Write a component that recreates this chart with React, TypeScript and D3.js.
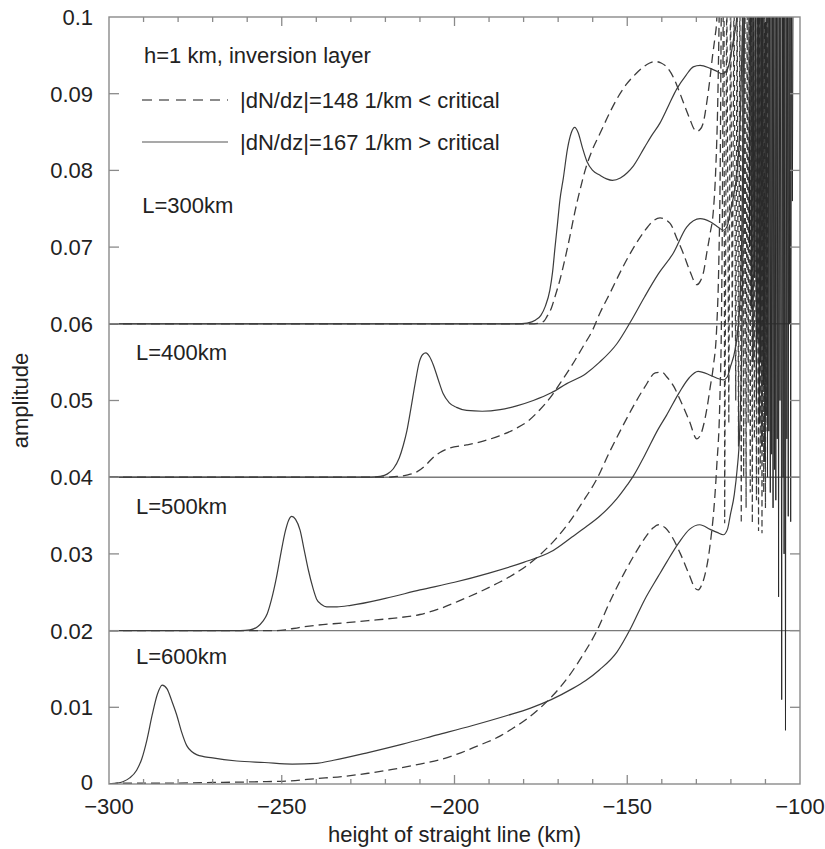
import React, { useEffect } from "react";
import * as d3 from "d3";

// ---------- data (x in km, amplitude) ----------
const l600Solid: [number, number][] = [
  [-300, 0], [-298, 0.0001], [-296, 0.0003], [-294, 0.0008], [-292, 0.0018], [-290.5, 0.0033],
  [-289, 0.0058], [-287.5, 0.009], [-286, 0.0117], [-284.6, 0.0129], [-283.2, 0.0124], [-281.8, 0.0108],
  [-280.4, 0.009], [-279, 0.0068], [-277.5, 0.005], [-276, 0.0042], [-274.5, 0.0038], [-270, 0.0034],
  [-263, 0.003], [-255, 0.0028], [-247, 0.0026], [-240, 0.0027], [-235, 0.0031], [-225, 0.0041],
  [-215, 0.0052], [-205, 0.0064], [-195, 0.0076], [-185, 0.0089], [-178, 0.0099], [-172, 0.011],
  [-166, 0.0124], [-162, 0.0135], [-158, 0.0149], [-153, 0.0172], [-149, 0.0203], [-145, 0.024],
  [-141, 0.0271], [-138.5, 0.029], [-135, 0.0315], [-132, 0.0332], [-129, 0.0338], [-126, 0.0332],
  [-124, 0.0328], [-122.2, 0.0325], [-121, 0.0332], [-120.2, 0.035], [-119, 0.0378], [-118.2, 0.041],
  [-117.5, 0.0455], [-116.9, 0.056], [-116.4, 0.075], [-116.0, 0.105],
];

const l500Solid: [number, number][] = [
  [-300, 0.02], [-262, 0.02], [-259.2, 0.0201], [-257, 0.0205], [-255.5, 0.0212], [-254.2, 0.0222],
  [-253, 0.024], [-251.5, 0.027], [-250.2, 0.0302], [-249, 0.0329], [-248, 0.0344], [-247.1, 0.0349],
  [-246, 0.0345], [-244.7, 0.0331], [-243.5, 0.0305], [-242.3, 0.0279], [-241, 0.0256], [-239.9, 0.0241],
  [-238.5, 0.0234], [-237, 0.0231], [-234, 0.0231], [-230, 0.0233], [-220, 0.0242], [-210, 0.0253],
  [-200, 0.0263], [-190, 0.0275], [-180, 0.0289], [-172, 0.0303], [-166, 0.0322], [-162, 0.0335],
  [-158, 0.0349], [-153, 0.0372], [-150, 0.039], [-148.3, 0.0401], [-145, 0.0428], [-141, 0.0463],
  [-138.6, 0.0481], [-135, 0.051], [-132, 0.053], [-129.5, 0.0538], [-126, 0.0533], [-124, 0.0529],
  [-122.2, 0.0527], [-121, 0.0531], [-120.2, 0.0543], [-118.8, 0.0566], [-117.9, 0.0596],
  [-117.2, 0.065], [-116.6, 0.08], [-116.2, 0.105],
];

const l400Solid: [number, number][] = [
  [-300, 0.04], [-224, 0.04], [-221.6, 0.0401], [-219.5, 0.0404], [-217.7, 0.0411], [-216, 0.0425],
  [-214.8, 0.0442], [-213.8, 0.046], [-212.6, 0.049], [-211.4, 0.0522], [-210.2, 0.055], [-209.2, 0.056],
  [-208.3, 0.0562], [-207.2, 0.0557], [-206.1, 0.0546], [-204.7, 0.0527], [-203.3, 0.0509], [-201.5, 0.0497],
  [-199.4, 0.0491], [-196.5, 0.0487], [-192, 0.0486], [-186.8, 0.0488], [-182, 0.0493], [-177.2, 0.05],
  [-172, 0.051], [-167.5, 0.0522], [-162, 0.0535], [-158, 0.055], [-153, 0.0574], [-149, 0.0603],
  [-145, 0.0635], [-141, 0.0665], [-136.7, 0.0692], [-132.8, 0.0726], [-128.9, 0.0737], [-126, 0.0733],
  [-124, 0.0727], [-122.2, 0.0722], [-121, 0.0728], [-120.3, 0.0744], [-118.8, 0.0778], [-117.9, 0.0815],
  [-117.2, 0.088], [-116.6, 0.1], [-116.2, 0.11],
];

const l300Solid: [number, number][] = [
  [-300, 0.06], [-182, 0.06], [-179, 0.0601], [-176.5, 0.0605], [-175, 0.0611], [-173.7, 0.0623],
  [-172.4, 0.0644], [-171.6, 0.0668], [-170.9, 0.07], [-170.2, 0.073], [-169.5, 0.0761], [-168.5, 0.079],
  [-167.3, 0.0828], [-166.2, 0.0849], [-165.2, 0.0856], [-164.2, 0.0849], [-163, 0.083], [-161.7, 0.0812],
  [-160, 0.08], [-158, 0.0794], [-156, 0.0789], [-154.3, 0.0787], [-152, 0.079], [-150, 0.0797],
  [-148.2, 0.0806], [-145, 0.083], [-143, 0.0845], [-140.5, 0.0862], [-138, 0.0885], [-135.7, 0.0906],
  [-133, 0.0924], [-130.9, 0.0935], [-128.9, 0.0937], [-126, 0.0933], [-124, 0.0929], [-122.5, 0.0926],
  [-121, 0.0932], [-120.2, 0.0945], [-119.3, 0.097], [-118.3, 0.1], [-117.8, 0.105],
];

const l600Dashed: [number, number][] = [
  [-300, 0], [-297, 0.0001], [-285, 0.0001], [-270, 0.0002], [-256, 0.0003], [-248, 0.0004],
  [-240, 0.0007], [-232, 0.001], [-225, 0.0014], [-218, 0.0019], [-210, 0.0026], [-204, 0.0032],
  [-198, 0.0041], [-192, 0.0052], [-187, 0.0062], [-183, 0.0073], [-179, 0.0085], [-175, 0.01],
  [-171, 0.0118], [-167, 0.014], [-163, 0.0167], [-159, 0.0198], [-155, 0.0238], [-151, 0.0274],
  [-148.3, 0.0296], [-145, 0.032], [-142.5, 0.0334], [-141, 0.0338], [-139, 0.0334], [-137, 0.0322],
  [-134.7, 0.0301], [-132, 0.0272], [-130.5, 0.0256], [-129.5, 0.0253], [-128.5, 0.0259], [-127.5, 0.0273],
  [-126.5, 0.0296], [-125.8, 0.032], [-125.1, 0.0349], [-124.1, 0.0414], [-123.2, 0.05], [-122.7, 0.062],
  [-122.4, 0.08], [-122.2, 0.105],
];

const l500Dashed: [number, number][] = [
  [-300, 0.02], [-252, 0.02], [-249, 0.0201], [-245, 0.0204], [-240, 0.0207], [-232, 0.021],
  [-225, 0.0213], [-218, 0.0216], [-210, 0.0221], [-204, 0.0229], [-198, 0.024], [-192, 0.0252],
  [-187, 0.0263], [-183, 0.0273], [-179, 0.0285], [-175, 0.03], [-171, 0.0318], [-167, 0.034],
  [-163, 0.0367], [-159, 0.0396], [-155, 0.0434], [-151.5, 0.0465], [-148.3, 0.0492], [-145, 0.0517],
  [-141.9, 0.0536], [-140, 0.0537], [-138.6, 0.0531], [-136.5, 0.0518], [-134.7, 0.0501],
  [-132, 0.0473], [-129.9, 0.045], [-128.8, 0.0455], [-127.8, 0.047], [-127, 0.0488], [-126, 0.0517],
  [-125.1, 0.0544], [-124.1, 0.0596], [-123.5, 0.068], [-123.1, 0.08], [-122.8, 0.1], [-122.6, 0.11],
];

const l400Dashed: [number, number][] = [
  [-300, 0.04], [-219, 0.04], [-216.7, 0.0401], [-213.5, 0.0403], [-210.9, 0.0407], [-208.5, 0.0415],
  [-206.1, 0.0426], [-203.5, 0.0434], [-201.3, 0.0438], [-196.5, 0.0442], [-191.7, 0.0447], [-187, 0.0454],
  [-182, 0.0464], [-178.5, 0.0474], [-175.3, 0.0488], [-172.4, 0.0503], [-169.5, 0.0522], [-166, 0.0546],
  [-162.7, 0.0571], [-160, 0.0592], [-157.9, 0.0614], [-155, 0.064], [-151.5, 0.0672], [-148.2, 0.0699],
  [-145, 0.0721], [-142.5, 0.0734], [-140.5, 0.0738], [-137.6, 0.0731], [-135.7, 0.0712], [-133.8, 0.0692],
  [-131.8, 0.0668], [-129.9, 0.0651], [-128.8, 0.0656], [-127.8, 0.067], [-127, 0.0692], [-126, 0.0718],
  [-125.1, 0.0746], [-124.4, 0.08], [-123.8, 0.089], [-123.4, 0.1], [-123.1, 0.11],
];

const l300Dashed: [number, number][] = [
  [-300, 0.06], [-177, 0.06], [-175.3, 0.0601], [-174, 0.0604], [-173.3, 0.0609], [-172, 0.062],
  [-170.8, 0.0637], [-169.5, 0.0657], [-168, 0.0685], [-166.6, 0.0714], [-165.2, 0.0745], [-163.7, 0.0774],
  [-162, 0.0803], [-160, 0.0828], [-157.9, 0.0848], [-155, 0.0876], [-152.5, 0.0897], [-150.1, 0.0913],
  [-147.5, 0.0926], [-145.3, 0.0935], [-143.5, 0.094], [-141.9, 0.0942], [-140.2, 0.094], [-138.6, 0.0935],
  [-136.5, 0.092], [-134.7, 0.09], [-133.2, 0.0882], [-131.8, 0.0866], [-130.8, 0.0855], [-129.9, 0.0851],
  [-129, 0.0853], [-128, 0.0862], [-127, 0.0888], [-126, 0.0922], [-125.3, 0.095], [-124.6, 0.0974],
  [-124.1, 0.0996], [-123.8, 0.104],
];

// oscillating region near the critical level: position of each swing and its lowest amplitude
const dashSpikeX = [-121.8, -120.6, -119.6, -118.6, -117.8, -117.0, -116.3, -115.6, -115.0, -114.4, -113.8, -113.2, -112.6, -112.0, -111.5, -111.0, -110.5, -110.0, -109.5];
const dashSpikeLow = [0.034, 0.047, 0.058, 0.05, 0.044, 0.034, 0.04, 0.036, 0.047, 0.038, 0.034, 0.045, 0.037, 0.033, 0.041, 0.0327, 0.038, 0.036, 0.046];

const solidSpikeX = [-114.6, -114.1, -113.6, -113.1, -112.6, -112.2, -111.8, -111.4, -111.0, -110.6, -110.2, -109.8, -109.4, -109.0, -108.6, -108.2, -107.8, -107.4, -107.0, -106.6, -106.2, -105.8, -105.3, -104.9, -104.6, -104.2, -103.8, -103.4, -103.0, -102.7, -102.2];
const solidSpikeLow = [0.07, 0.062, 0.055, 0.066, 0.05, 0.058, 0.047, 0.055, 0.044, 0.052, 0.042, 0.048, 0.04, 0.046, 0.038, 0.043, 0.036, 0.041, 0.037, 0.045, 0.0244, 0.05, 0.011, 0.04, 0.03, 0.007, 0.045, 0.0349, 0.06, 0.0342, 0.076];

const yTickValues = [0, 0.01, 0.02, 0.03, 0.04, 0.05, 0.06, 0.07, 0.08, 0.09, 0.1];
const yTickLabels = ["0", "0.01", "0.02", "0.03", "0.04", "0.05", "0.06", "0.07", "0.08", "0.09", "0.1"];
const xMajorValues = [-300, -250, -200, -150, -100];
const xMajorLabels = ["\u2212300", "\u2212250", "\u2212200", "\u2212150", "\u2212100"];
const baseLevels = [0.02, 0.04, 0.06];

const curveLabels = ["L=300km", "L=400km", "L=500km", "L=600km"];
const curveLabelX = [-290.4, -292.2, -292.2, -292.2];
const curveLabelY = [0.0744, 0.0553, 0.0352, 0.0157];

const legendTitle = "h=1 km, inversion layer";
const legendDashed = "|dN/dz|=148 1/km < critical";
const legendSolid = "|dN/dz|=167 1/km > critical";

// ---------- layout ----------
const W = 825;
const H = 849;
const M = { left: 109, right: 800, top: 17, bottom: 784 };
const FONT = "'Liberation Sans', Arial, Helvetica, sans-serif";
const TEXT = "#222";
const LINE = "#3c3c3c";
const FRAME = "#8a8a8a";

export default function App() {
  useEffect(() => {
    document.body.style.margin = "0";
  }, []);

  const x = d3.scaleLinear().domain([-300, -100]).range([M.left, M.right]);
  const y = d3.scaleLinear().domain([0, 0.1]).range([M.bottom, M.top]);

  const smooth = d3
    .line<[number, number]>()
    .x((d) => x(d[0]))
    .y((d) => y(d[1]))
    .curve(d3.curveMonotoneX);
  const straight = d3
    .line<[number, number]>()
    .x((d) => x(d[0]))
    .y((d) => y(d[1]));

  const spikePoints = (xs: number[], lows: number[]): [number, number][] => {
    const top = 0.106;
    const pts: [number, number][] = [[xs[0] - 0.2, top]];
    xs.forEach((xv, i) => {
      pts.push([xv, lows[i]]);
      const next = i < xs.length - 1 ? (xv + xs[i + 1]) / 2 : xv + 0.2;
      pts.push([next, top]);
    });
    return pts;
  };

  const solidCurves = [l300Solid, l400Solid, l500Solid, l600Solid];
  const dashedCurves = [l300Dashed, l400Dashed, l500Dashed, l600Dashed];

  const xMinor = d3.range(-290, -100, 10).filter((v) => v % 50 !== 0);

  return (
    <svg
      width={W}
      height={H}
      viewBox={`0 0 ${W} ${H}`}
      style={{ position: "absolute", left: 0, top: 0, display: "block", background: "#fff" }}
      fontFamily={FONT}
    >
      <defs>
        <clipPath id="plotClip">
          <rect x={M.left} y={M.top} width={M.right - M.left} height={M.bottom - M.top} />
        </clipPath>
      </defs>

      {/* base lines */}
      {baseLevels.map((v) => (
        <line key={v} x1={M.left} x2={M.right} y1={y(v)} y2={y(v)} stroke="#7a7a7a" strokeWidth={1.4} />
      ))}

      <g clipPath="url(#plotClip)" fill="none">
        {dashedCurves.map((c, i) => (
          <path key={"d" + i} d={smooth(c) || ""} stroke={LINE} strokeWidth={1.3} strokeDasharray="9,5" />
        ))}
        {solidCurves.map((c, i) => (
          <path key={"s" + i} d={smooth(c) || ""} stroke={LINE} strokeWidth={1.2} />
        ))}
        <path d={straight(spikePoints(dashSpikeX, dashSpikeLow)) || ""} stroke={LINE} strokeWidth={1.2} strokeDasharray="6,4" />
        <path d={straight(spikePoints(solidSpikeX, solidSpikeLow)) || ""} stroke="#2a2a2a" strokeWidth={1} />
      </g>

      {/* frame */}
      <rect x={M.left} y={M.top} width={M.right - M.left} height={M.bottom - M.top} fill="none" stroke={FRAME} strokeWidth={1.4} />

      {/* y ticks */}
      {yTickValues.map((v, i) => (
        <g key={"yt" + i}>
          {i > 0 && i < yTickValues.length - 1 && (
            <>
              <line x1={M.left} x2={M.left + 10} y1={y(v)} y2={y(v)} stroke={FRAME} strokeWidth={1.3} />
              <line x1={M.right} x2={M.right - 10} y1={y(v)} y2={y(v)} stroke={FRAME} strokeWidth={1.3} />
            </>
          )}
          <text x={93} y={y(v) - (i === 0 ? 2 : 0)} dy="0.36em" textAnchor="end" fontSize={22} fill={TEXT}>
            {yTickLabels[i]}
          </text>
        </g>
      ))}

      {/* x ticks */}
      {xMinor.map((v) => (
        <g key={"xm" + v}>
          <line x1={x(v)} x2={x(v)} y1={M.bottom} y2={M.bottom - 5} stroke={FRAME} strokeWidth={1.3} />
          <line x1={x(v)} x2={x(v)} y1={M.top} y2={M.top + 5} stroke={FRAME} strokeWidth={1.3} />
        </g>
      ))}
      {xMajorValues.map((v, i) => (
        <g key={"xM" + v}>
          {i > 0 && i < xMajorValues.length - 1 && (
            <>
              <line x1={x(v)} x2={x(v)} y1={M.bottom} y2={M.bottom - 9} stroke={FRAME} strokeWidth={1.3} />
              <line x1={x(v)} x2={x(v)} y1={M.top} y2={M.top + 9} stroke={FRAME} strokeWidth={1.3} />
            </>
          )}
          <text x={x(v)} y={814} textAnchor="middle" fontSize={22} fill={TEXT}>
            {xMajorLabels[i]}
          </text>
        </g>
      ))}

      {/* axis titles */}
      <text x={(M.left + M.right) / 2} y={842} textAnchor="middle" fontSize={22} fill={TEXT}>
        height of straight line (km)
      </text>
      <text transform={`translate(28,${(M.top + M.bottom) / 2}) rotate(-90)`} textAnchor="middle" fontSize={22} fill={TEXT}>
        amplitude
      </text>

      {/* legend */}
      <text x={144} y={63} fontSize={22} fill={TEXT}>{legendTitle}</text>
      <line x1={142} x2={228} y1={100} y2={100} stroke="#666" strokeWidth={1.3} strokeDasharray="10,7" />
      <text x={240} y={108} fontSize={22} fill={TEXT}>{legendDashed}</text>
      <line x1={142} x2={228} y1={142} y2={142} stroke="#555" strokeWidth={1.2} />
      <text x={240} y={150} fontSize={22} fill={TEXT}>{legendSolid}</text>

      {/* curve labels */}
      {curveLabels.map((t, i) => (
        <text key={t} x={x(curveLabelX[i])} y={y(curveLabelY[i])} fontSize={22} fill={TEXT}>
          {t}
        </text>
      ))}
    </svg>
  );
}
